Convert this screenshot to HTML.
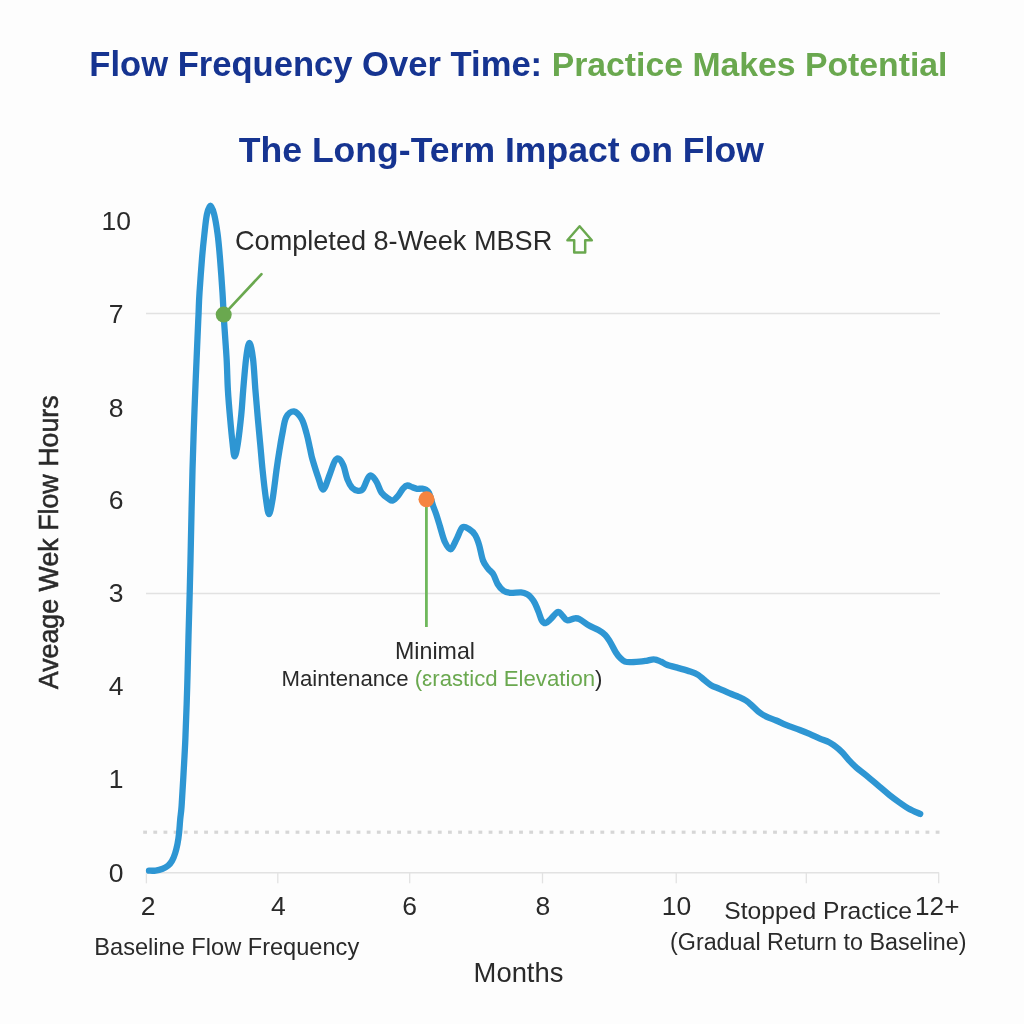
<!DOCTYPE html>
<html><head><meta charset="utf-8"><style>
html,body{margin:0;padding:0;background:#fdfdfd;}
svg{display:block;will-change:transform;}
.t{font-family:"Liberation Sans",sans-serif;fill:#2a2a2a;}
.b{font-family:"Liberation Sans",sans-serif;font-weight:bold;}
</style></head><body>
<svg width="1024" height="1024" viewBox="0 0 1024 1024">
<rect width="1024" height="1024" fill="#fdfdfd"/>
<text x="89.3" y="76.2" class="b" font-size="34.6" fill="#163491">Flow Frequency Over Time:</text>
<text x="551.7" y="76.2" class="b" font-size="33.75" fill="#6aa84f">Practice Makes Potential</text>
<text x="501.3" y="162.2" text-anchor="middle" class="b" font-size="35.6" fill="#163491">The Long-Term Impact on Flow</text>
<line x1="146" y1="313.5" x2="940" y2="313.5" stroke="#e2e2e2" stroke-width="1.3"/>
<line x1="146" y1="593.5" x2="940" y2="593.5" stroke="#e2e2e2" stroke-width="1.3"/>
<line x1="146" y1="872.8" x2="939" y2="872.8" stroke="#e2e2e2" stroke-width="1.5"/>
<line x1="146.4" y1="872.5" x2="146.4" y2="883.3" stroke="#e2e2e2" stroke-width="1.3"/><line x1="277.8" y1="872.5" x2="277.8" y2="883.3" stroke="#e2e2e2" stroke-width="1.3"/><line x1="409.7" y1="872.5" x2="409.7" y2="883.3" stroke="#e2e2e2" stroke-width="1.3"/><line x1="542.5" y1="872.5" x2="542.5" y2="883.3" stroke="#e2e2e2" stroke-width="1.3"/><line x1="676.25" y1="872.5" x2="676.25" y2="883.3" stroke="#e2e2e2" stroke-width="1.3"/><line x1="806.3" y1="872.5" x2="806.3" y2="883.3" stroke="#e2e2e2" stroke-width="1.3"/><line x1="938.7" y1="872.5" x2="938.7" y2="883.3" stroke="#e2e2e2" stroke-width="1.3"/>
<rect x="143.20" y="830.6" width="3.8" height="3.2" fill="#d6d6d6"/><rect x="153.36" y="830.6" width="3.8" height="3.2" fill="#d6d6d6"/><rect x="163.52" y="830.6" width="3.8" height="3.2" fill="#d6d6d6"/><rect x="173.68" y="830.6" width="3.8" height="3.2" fill="#d6d6d6"/><rect x="183.84" y="830.6" width="3.8" height="3.2" fill="#d6d6d6"/><rect x="194.00" y="830.6" width="3.8" height="3.2" fill="#d6d6d6"/><rect x="204.16" y="830.6" width="3.8" height="3.2" fill="#d6d6d6"/><rect x="214.32" y="830.6" width="3.8" height="3.2" fill="#d6d6d6"/><rect x="224.48" y="830.6" width="3.8" height="3.2" fill="#d6d6d6"/><rect x="234.64" y="830.6" width="3.8" height="3.2" fill="#d6d6d6"/><rect x="244.80" y="830.6" width="3.8" height="3.2" fill="#d6d6d6"/><rect x="254.96" y="830.6" width="3.8" height="3.2" fill="#d6d6d6"/><rect x="265.12" y="830.6" width="3.8" height="3.2" fill="#d6d6d6"/><rect x="275.28" y="830.6" width="3.8" height="3.2" fill="#d6d6d6"/><rect x="285.44" y="830.6" width="3.8" height="3.2" fill="#d6d6d6"/><rect x="295.60" y="830.6" width="3.8" height="3.2" fill="#d6d6d6"/><rect x="305.76" y="830.6" width="3.8" height="3.2" fill="#d6d6d6"/><rect x="315.92" y="830.6" width="3.8" height="3.2" fill="#d6d6d6"/><rect x="326.08" y="830.6" width="3.8" height="3.2" fill="#d6d6d6"/><rect x="336.24" y="830.6" width="3.8" height="3.2" fill="#d6d6d6"/><rect x="346.40" y="830.6" width="3.8" height="3.2" fill="#d6d6d6"/><rect x="356.56" y="830.6" width="3.8" height="3.2" fill="#d6d6d6"/><rect x="366.72" y="830.6" width="3.8" height="3.2" fill="#d6d6d6"/><rect x="376.88" y="830.6" width="3.8" height="3.2" fill="#d6d6d6"/><rect x="387.04" y="830.6" width="3.8" height="3.2" fill="#d6d6d6"/><rect x="397.20" y="830.6" width="3.8" height="3.2" fill="#d6d6d6"/><rect x="407.36" y="830.6" width="3.8" height="3.2" fill="#d6d6d6"/><rect x="417.52" y="830.6" width="3.8" height="3.2" fill="#d6d6d6"/><rect x="427.68" y="830.6" width="3.8" height="3.2" fill="#d6d6d6"/><rect x="437.84" y="830.6" width="3.8" height="3.2" fill="#d6d6d6"/><rect x="448.00" y="830.6" width="3.8" height="3.2" fill="#d6d6d6"/><rect x="458.16" y="830.6" width="3.8" height="3.2" fill="#d6d6d6"/><rect x="468.32" y="830.6" width="3.8" height="3.2" fill="#d6d6d6"/><rect x="478.48" y="830.6" width="3.8" height="3.2" fill="#d6d6d6"/><rect x="488.64" y="830.6" width="3.8" height="3.2" fill="#d6d6d6"/><rect x="498.80" y="830.6" width="3.8" height="3.2" fill="#d6d6d6"/><rect x="508.96" y="830.6" width="3.8" height="3.2" fill="#d6d6d6"/><rect x="519.12" y="830.6" width="3.8" height="3.2" fill="#d6d6d6"/><rect x="529.28" y="830.6" width="3.8" height="3.2" fill="#d6d6d6"/><rect x="539.44" y="830.6" width="3.8" height="3.2" fill="#d6d6d6"/><rect x="549.60" y="830.6" width="3.8" height="3.2" fill="#d6d6d6"/><rect x="559.76" y="830.6" width="3.8" height="3.2" fill="#d6d6d6"/><rect x="569.92" y="830.6" width="3.8" height="3.2" fill="#d6d6d6"/><rect x="580.08" y="830.6" width="3.8" height="3.2" fill="#d6d6d6"/><rect x="590.24" y="830.6" width="3.8" height="3.2" fill="#d6d6d6"/><rect x="600.40" y="830.6" width="3.8" height="3.2" fill="#d6d6d6"/><rect x="610.56" y="830.6" width="3.8" height="3.2" fill="#d6d6d6"/><rect x="620.72" y="830.6" width="3.8" height="3.2" fill="#d6d6d6"/><rect x="630.88" y="830.6" width="3.8" height="3.2" fill="#d6d6d6"/><rect x="641.04" y="830.6" width="3.8" height="3.2" fill="#d6d6d6"/><rect x="651.20" y="830.6" width="3.8" height="3.2" fill="#d6d6d6"/><rect x="661.36" y="830.6" width="3.8" height="3.2" fill="#d6d6d6"/><rect x="671.52" y="830.6" width="3.8" height="3.2" fill="#d6d6d6"/><rect x="681.68" y="830.6" width="3.8" height="3.2" fill="#d6d6d6"/><rect x="691.84" y="830.6" width="3.8" height="3.2" fill="#d6d6d6"/><rect x="702.00" y="830.6" width="3.8" height="3.2" fill="#d6d6d6"/><rect x="712.16" y="830.6" width="3.8" height="3.2" fill="#d6d6d6"/><rect x="722.32" y="830.6" width="3.8" height="3.2" fill="#d6d6d6"/><rect x="732.48" y="830.6" width="3.8" height="3.2" fill="#d6d6d6"/><rect x="742.64" y="830.6" width="3.8" height="3.2" fill="#d6d6d6"/><rect x="752.80" y="830.6" width="3.8" height="3.2" fill="#d6d6d6"/><rect x="762.96" y="830.6" width="3.8" height="3.2" fill="#d6d6d6"/><rect x="773.12" y="830.6" width="3.8" height="3.2" fill="#d6d6d6"/><rect x="783.28" y="830.6" width="3.8" height="3.2" fill="#d6d6d6"/><rect x="793.44" y="830.6" width="3.8" height="3.2" fill="#d6d6d6"/><rect x="803.60" y="830.6" width="3.8" height="3.2" fill="#d6d6d6"/><rect x="813.76" y="830.6" width="3.8" height="3.2" fill="#d6d6d6"/><rect x="823.92" y="830.6" width="3.8" height="3.2" fill="#d6d6d6"/><rect x="834.08" y="830.6" width="3.8" height="3.2" fill="#d6d6d6"/><rect x="844.24" y="830.6" width="3.8" height="3.2" fill="#d6d6d6"/><rect x="854.40" y="830.6" width="3.8" height="3.2" fill="#d6d6d6"/><rect x="864.56" y="830.6" width="3.8" height="3.2" fill="#d6d6d6"/><rect x="874.72" y="830.6" width="3.8" height="3.2" fill="#d6d6d6"/><rect x="884.88" y="830.6" width="3.8" height="3.2" fill="#d6d6d6"/><rect x="895.04" y="830.6" width="3.8" height="3.2" fill="#d6d6d6"/><rect x="905.20" y="830.6" width="3.8" height="3.2" fill="#d6d6d6"/><rect x="915.36" y="830.6" width="3.8" height="3.2" fill="#d6d6d6"/><rect x="925.52" y="830.6" width="3.8" height="3.2" fill="#d6d6d6"/><rect x="935.68" y="830.6" width="3.8" height="3.2" fill="#d6d6d6"/>
<text x="116.2" y="229.6" text-anchor="middle" class="t" font-size="26.5">10</text><text x="116.2" y="323.4" text-anchor="middle" class="t" font-size="26.5">7</text><text x="116.2" y="417.2" text-anchor="middle" class="t" font-size="26.5">8</text><text x="116.2" y="509.2" text-anchor="middle" class="t" font-size="26.5">6</text><text x="116.2" y="601.8" text-anchor="middle" class="t" font-size="26.5">3</text><text x="116.2" y="694.5" text-anchor="middle" class="t" font-size="26.5">4</text><text x="116.2" y="787.9" text-anchor="middle" class="t" font-size="26.5">1</text><text x="116.2" y="881.9" text-anchor="middle" class="t" font-size="26.5">0</text>
<text x="148.1" y="914.6" text-anchor="middle" class="t" font-size="26.5">2</text><text x="278.3" y="914.6" text-anchor="middle" class="t" font-size="26.5">4</text><text x="409.7" y="914.6" text-anchor="middle" class="t" font-size="26.5">6</text><text x="542.8" y="914.6" text-anchor="middle" class="t" font-size="26.5">8</text><text x="676.5" y="914.6" text-anchor="middle" class="t" font-size="26.5">10</text>
<text x="915" y="914.6" class="t" font-size="26.2">12+</text>
<text x="724.3" y="919.2" class="t" font-size="24.65">Stopped Practice</text>
<text x="670" y="950.4" class="t" font-size="23.3">(Gradual Return to Baseline)</text>
<text x="94.3" y="955.2" class="t" font-size="23.6">Baseline Flow Frequency</text>
<text x="518.5" y="981.9" text-anchor="middle" class="t" font-size="27.4">Months</text>
<text transform="translate(58.2,542.3) rotate(-90)" text-anchor="middle" class="t" font-size="26.8" stroke="#2a2a2a" stroke-width="0.55">Aveage Wek Flow Hours</text>
<text x="435" y="659.2" text-anchor="middle" class="t" font-size="23.2">Minimal</text>
<text x="281.5" y="685.8" class="t" font-size="22.2">Maintenance <tspan fill="#6aa84f">(ɛrasticd Elevation</tspan>)</text>
<text x="235" y="249.8" class="t" font-size="27.1">Completed 8-Week MBSR</text>
<path d="M579.6,226.3 L591.8,240.2 L585.2,240.2 L585.2,252.6 L574.2,252.6 L574.2,240.2 L567.4,240.2 Z" fill="none" stroke="#6aa84f" stroke-width="2.5" stroke-linejoin="round"/>
<line x1="223.7" y1="314.6" x2="261.5" y2="274.1" stroke="#6aa84f" stroke-width="2.6" stroke-linecap="round"/>
<line x1="426.4" y1="499" x2="426.4" y2="627" stroke="#6fb85c" stroke-width="2.8"/>
<path d="M149.0,870.7 C150.1,870.7 153.3,870.9 155.6,870.6 C157.9,870.3 160.6,869.6 162.7,868.8 C164.8,868.0 166.5,866.9 168.1,865.6 C169.7,864.3 170.8,863.0 172.0,860.9 C173.2,858.8 174.3,856.0 175.2,853.1 C176.1,850.2 176.8,847.2 177.5,843.8 C178.2,840.4 178.7,836.8 179.1,832.8 C179.5,828.8 179.8,824.0 180.2,819.5 C180.6,815.0 181.1,813.2 181.6,806.0 C182.1,798.8 182.8,787.3 183.4,776.0 C184.0,764.7 184.8,752.8 185.4,738.0 C186.0,723.2 186.7,704.0 187.2,687.0 C187.7,670.0 188.1,651.7 188.5,636.0 C188.9,620.3 189.4,605.7 189.7,593.0 C190.0,580.3 190.0,580.5 190.5,560.0 C191.0,539.5 191.8,495.0 192.5,470.0 C193.2,445.0 193.7,431.7 194.5,410.0 C195.3,388.3 196.7,356.2 197.4,340.0 C198.1,323.8 198.2,320.9 198.6,313.0 C198.9,305.1 198.9,301.8 199.5,292.7 C200.1,283.6 201.2,268.3 202.0,258.5 C202.8,248.7 203.6,241.3 204.4,234.0 C205.2,226.7 205.9,219.2 206.9,214.5 C207.9,209.8 209.3,205.7 210.5,205.7 C211.7,205.7 213.0,209.8 214.2,214.5 C215.4,219.2 216.6,226.7 217.6,234.0 C218.6,241.3 219.2,248.7 220.0,258.5 C220.8,268.3 221.9,283.3 222.5,292.7 C223.1,302.1 223.3,308.5 223.7,314.6 C224.0,320.7 224.1,322.0 224.6,329.3 C225.1,336.6 226.0,348.5 226.6,358.6 C227.2,368.7 227.3,379.9 227.9,390.0 C228.5,400.1 229.4,410.4 230.2,419.3 C231.0,428.2 231.9,437.5 232.6,443.7 C233.3,449.9 233.7,456.4 234.6,456.4 C235.5,456.4 236.7,450.7 237.8,443.7 C238.9,436.7 240.4,423.3 241.3,414.4 C242.2,405.4 242.4,399.3 243.2,390.0 C244.0,380.7 245.1,366.4 246.1,358.6 C247.1,350.8 248.2,343.0 249.4,343.0 C250.6,343.0 252.0,350.8 253.0,358.6 C254.0,366.4 254.6,379.9 255.4,390.0 C256.2,400.1 257.1,410.1 257.9,419.3 C258.7,428.5 259.5,436.7 260.3,445.0 C261.1,453.3 261.6,460.4 262.5,469.3 C263.4,478.2 264.8,491.1 265.9,498.6 C267.0,506.1 267.9,514.2 269.0,514.2 C270.1,514.2 271.4,506.0 272.7,498.6 C273.9,491.2 275.4,478.1 276.5,470.0 C277.6,461.9 278.5,456.0 279.5,450.0 C280.5,444.0 281.2,439.4 282.3,434.0 C283.4,428.6 284.2,421.1 286.2,417.3 C288.1,413.6 291.4,411.2 294.0,411.5 C296.6,411.8 299.7,415.6 301.8,419.3 C303.9,423.1 305.3,429.1 306.7,434.0 C308.1,438.9 309.0,444.4 310.0,448.6 C311.0,452.9 311.1,454.8 312.5,459.5 C313.9,464.2 316.3,472.1 318.1,477.1 C319.9,482.1 321.4,490.0 323.4,489.5 C325.3,489.0 327.9,478.9 329.8,474.2 C331.7,469.5 333.1,464.1 334.6,461.5 C336.1,458.9 337.1,458.0 338.6,458.6 C340.1,459.2 341.9,462.0 343.4,465.4 C344.8,468.8 345.8,475.4 347.3,479.1 C348.8,482.9 350.4,485.9 352.2,487.9 C354.0,489.8 356.3,490.6 358.1,490.8 C359.9,491.0 361.4,490.9 363.0,488.8 C364.6,486.7 366.5,480.3 367.9,478.1 C369.3,475.9 369.9,475.0 371.3,475.6 C372.8,476.2 374.9,479.1 376.6,482.0 C378.3,484.9 379.5,489.9 381.5,492.7 C383.5,495.5 386.5,497.3 388.4,498.6 C390.3,499.9 391.2,501.0 392.8,500.5 C394.4,500.0 396.4,497.7 398.1,495.7 C399.8,493.7 401.6,490.0 403.2,488.3 C404.8,486.6 405.8,485.7 407.4,485.5 C408.9,485.3 410.9,486.8 412.5,487.3 C414.1,487.9 415.4,488.6 417.0,488.8 C418.6,489.0 420.7,488.5 422.3,488.7 C423.9,488.9 425.3,489.2 426.4,489.9 C427.5,490.5 428.2,491.2 428.9,492.6 C429.6,494.0 430.1,495.9 430.8,498.0 C431.5,500.1 431.9,502.4 432.8,505.1 C433.7,507.9 435.1,510.9 436.3,514.5 C437.5,518.1 438.6,521.9 440.0,526.5 C441.4,531.1 443.1,538.2 444.9,542.0 C446.7,545.8 448.8,549.8 450.7,549.3 C452.6,548.8 454.6,542.7 456.6,539.0 C458.6,535.3 460.4,528.9 462.5,527.3 C464.6,525.7 467.2,528.0 469.3,529.3 C471.4,530.6 473.6,532.6 475.2,535.2 C476.8,537.8 477.8,540.7 479.1,544.9 C480.4,549.1 481.5,556.6 483.0,560.5 C484.5,564.4 486.2,566.1 487.9,568.4 C489.6,570.7 491.6,571.6 493.2,574.2 C494.8,576.8 495.9,581.2 497.6,584.0 C499.3,586.8 501.4,589.3 503.5,590.8 C505.6,592.3 507.4,592.5 510.3,592.8 C513.2,593.0 518.3,592.1 521.1,592.3 C523.9,592.5 525.6,593.3 527.2,594.2 C528.9,595.1 529.7,596.0 531.0,597.5 C532.3,599.0 533.6,600.7 534.9,603.2 C536.2,605.7 537.7,609.6 538.8,612.5 C539.9,615.4 540.6,618.5 541.7,620.3 C542.8,622.1 544.1,623.4 545.6,623.2 C547.1,623.0 548.5,621.2 550.5,619.3 C552.5,617.4 555.8,612.6 557.8,612.0 C559.8,611.4 560.7,614.0 562.2,615.4 C563.8,616.8 565.0,619.8 567.1,620.3 C569.2,620.8 572.8,618.5 574.9,618.3 C577.0,618.1 577.5,618.1 579.8,619.3 C582.1,620.4 585.5,623.4 588.6,625.2 C591.7,627.0 595.6,628.4 598.4,630.0 C601.2,631.6 603.2,632.9 605.2,634.9 C607.2,636.9 608.3,638.9 610.1,641.8 C611.9,644.7 614.2,649.8 615.9,652.5 C617.6,655.2 619.0,656.8 620.5,658.3 C622.0,659.8 623.5,661.0 625.0,661.6 C626.5,662.2 627.4,662.2 629.8,662.2 C632.2,662.2 636.7,661.9 639.5,661.7 C642.3,661.5 643.9,661.2 646.4,660.8 C648.9,660.4 651.8,659.1 654.2,659.3 C656.6,659.4 658.9,660.8 661.0,661.7 C663.1,662.6 664.0,663.6 666.9,664.7 C669.8,665.8 674.7,667.0 678.6,668.1 C682.5,669.2 687.0,670.4 690.3,671.5 C693.5,672.6 695.8,673.5 698.1,674.9 C700.4,676.3 701.9,678.1 704.0,679.8 C706.1,681.5 708.4,683.7 711.0,685.2 C713.6,686.7 716.5,687.5 719.5,688.8 C722.5,690.1 726.0,691.8 729.3,693.2 C732.6,694.6 736.3,695.9 739.1,697.1 C741.9,698.3 743.8,699.1 745.9,700.5 C748.0,701.9 749.7,703.5 751.8,705.4 C753.9,707.3 756.2,709.9 758.6,711.8 C761.0,713.7 763.5,715.1 766.4,716.6 C769.3,718.1 773.0,719.1 776.2,720.5 C779.5,721.9 782.0,723.3 785.9,724.9 C789.8,726.5 795.9,728.5 799.8,730.0 C803.7,731.5 806.2,732.5 809.5,733.9 C812.8,735.3 816.0,736.9 819.3,738.3 C822.6,739.7 826.5,740.9 829.1,742.2 C831.7,743.5 832.8,744.5 834.9,746.1 C837.0,747.7 839.5,749.7 841.8,752.0 C844.1,754.3 846.2,757.2 848.6,759.8 C851.0,762.4 853.5,765.0 856.4,767.6 C859.3,770.2 862.4,772.2 866.2,775.4 C870.1,778.6 875.6,783.3 879.5,786.6 C883.4,789.9 886.4,792.6 889.7,795.2 C893.0,797.8 896.0,800.0 899.1,802.2 C902.2,804.4 904.9,806.5 908.4,808.4 C911.9,810.3 918.2,813.0 920.2,813.9" fill="none" stroke="#2e96d3" stroke-width="6.3" stroke-linecap="round" stroke-linejoin="round"/>
<circle cx="223.7" cy="314.6" r="8" fill="#6aa84f"/>
<circle cx="426.5" cy="499.3" r="8" fill="#f5843f"/>
</svg>
</body></html>
